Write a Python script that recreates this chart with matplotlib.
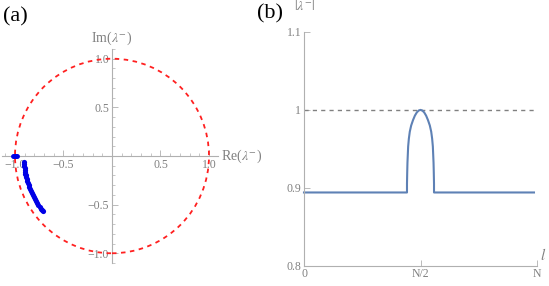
import matplotlib
matplotlib.use('Agg')
import matplotlib.pyplot as plt
from matplotlib.patches import Circle
from matplotlib.ticker import MultipleLocator, FixedLocator

plt.rcParams['font.family'] = 'serif'
plt.rcParams['font.serif'] = ['Liberation Serif', 'DejaVu Serif']
plt.rcParams['mathtext.fontset'] = 'stix'

# (a) eigenvalues lambda^- in the complex plane
re_cluster = [-1.02, -1.01, -1.0, -0.99, -0.98]
im_cluster = [0.0, 0.0, 0.0, 0.0, 0.0]
im_arc = [-0.06, -0.08, -0.10, -0.12, -0.14, -0.16, -0.18, -0.20, -0.22, -0.24,
          -0.26, -0.28, -0.30, -0.32, -0.34, -0.36, -0.38, -0.40, -0.42, -0.44,
          -0.46, -0.48, -0.50, -0.52, -0.54, -0.56, -0.57]
re_arc = [-0.908, -0.906, -0.904, -0.902, -0.899, -0.896, -0.892, -0.888, -0.883, -0.878,
          -0.872, -0.866, -0.859, -0.852, -0.844, -0.836, -0.827, -0.817, -0.807, -0.797,
          -0.785, -0.773, -0.760, -0.747, -0.732, -0.717, -0.709]

# (b) |lambda^-| versus l (l in units of N)
l_vals = [0.0, 0.442, 0.442, 0.443, 0.444, 0.447, 0.450, 0.454, 0.460, 0.468, 0.476, 0.484,
          0.492, 0.500, 0.508, 0.516, 0.524, 0.532, 0.540, 0.546, 0.550, 0.553, 0.556,
          0.557, 0.558, 0.558, 0.987]
abs_vals = [0.894, 0.894, 0.905, 0.920, 0.932, 0.953, 0.963, 0.972, 0.980, 0.987, 0.9927,
            0.9967, 0.9992, 1.0, 0.9992, 0.9967, 0.9927, 0.987, 0.980, 0.972, 0.963, 0.953,
            0.932, 0.920, 0.905, 0.894, 0.894]
x_ticks = [0, 0.5, 1.0]
x_ticklabels = ['0', 'N/2', 'N']
y_ticks = [0.8, 0.9, 1.0, 1.1]
y_ticklabels = ['0.8', '0.9', '1', '1.1']

axis_col = '#b0b0b0'
text_col = '#808080'

fig = plt.figure(figsize=(5.49, 2.86), dpi=100)

# ---- panel (a)
ax1 = fig.add_axes([2/549, 23/286, 216/549, 214/286])
ax1.set_xlim(-1.134, 1.093)
ax1.set_ylim(-1.10, 1.10)
for s in ['top', 'right']:
    ax1.spines[s].set_visible(False)
for s in ['left', 'bottom']:
    ax1.spines[s].set_position(('data', 0))
    ax1.spines[s].set_color(axis_col)
    ax1.spines[s].set_linewidth(0.8)
ax1.xaxis.set_major_locator(FixedLocator([-1.0, -0.5, 0.5, 1.0]))
ax1.yaxis.set_major_locator(FixedLocator([-1.0, -0.5, 0.5, 1.0]))
ax1.xaxis.set_minor_locator(MultipleLocator(0.1))
ax1.yaxis.set_minor_locator(MultipleLocator(0.1))
fmt = lambda v, p: ('\u2212%.1f' % -v) if v < 0 else '%.1f' % v
ax1.xaxis.set_major_formatter(plt.FuncFormatter(fmt))
ax1.yaxis.set_major_formatter(plt.FuncFormatter(fmt))
ax1.tick_params(which='major', direction='in', length=4, width=0.6, color=axis_col,
                labelsize=8.5, labelcolor=text_col, pad=2)
ax1.tick_params(which='minor', direction='in', length=2, width=0.5, color=axis_col)
ax1.patch.set_visible(False)

ax1.add_patch(Circle((0, 0), 1.0, fill=False, ec='#ff2020', lw=1.3,
                     ls=(0, (2.5, 2.5)), zorder=3))
ax1.scatter(re_arc, im_arc, s=14, color='#0000e6', zorder=4, lw=0)
ax1.scatter(re_cluster, im_cluster, s=12, color='#0000e6', zorder=4, lw=0)

ax1.text(1.12, 0, r'Re($\lambda^{-}$)', ha='left', va='center', fontsize=10,
         color=text_col, clip_on=False)
ax1.text(0, 1.21, r'Im($\lambda^{-}$)', ha='center', va='center', fontsize=10,
         color=text_col, clip_on=False)
fig.text(3/549, 1 - 17/286, '(a)', ha='left', va='center', fontsize=16)

# ---- panel (b)
ax2 = fig.add_axes([304/549, 20.3/286, 233/549, 233.7/286])
ax2.set_xlim(0, 1)
ax2.set_ylim(0.8, 1.1)
for s in ['top', 'right']:
    ax2.spines[s].set_visible(False)
for s in ['left', 'bottom']:
    ax2.spines[s].set_color(axis_col)
    ax2.spines[s].set_linewidth(0.8)
ax2.set_xticks(x_ticks)
ax2.set_xticklabels(x_ticklabels)
ax2.set_yticks(y_ticks)
ax2.set_yticklabels(y_ticklabels)
ax2.tick_params(direction='in', length=4, width=0.6, color=axis_col,
                labelsize=8.5, labelcolor=text_col, pad=2)
ax2.patch.set_visible(False)

ax2.axhline(1.0, xmin=0, xmax=0.987, color='#808080', lw=1.0, ls=(0, (3, 3)))
ax2.plot(l_vals, abs_vals, color='#5e81b5', lw=1.5, clip_on=False)

ax2.text(1.015, 0.804, r'$l$', ha='left', va='bottom', fontsize=11, color=text_col)
ax2.text(0.005, 1.133, r'$|\lambda^{-}|$', ha='center', va='center', fontsize=10,
         color=text_col, clip_on=False)
fig.text(257/549, 1 - 14/286, '(b)', ha='left', va='center', fontsize=16)

fig.savefig('out.png', dpi=100)
